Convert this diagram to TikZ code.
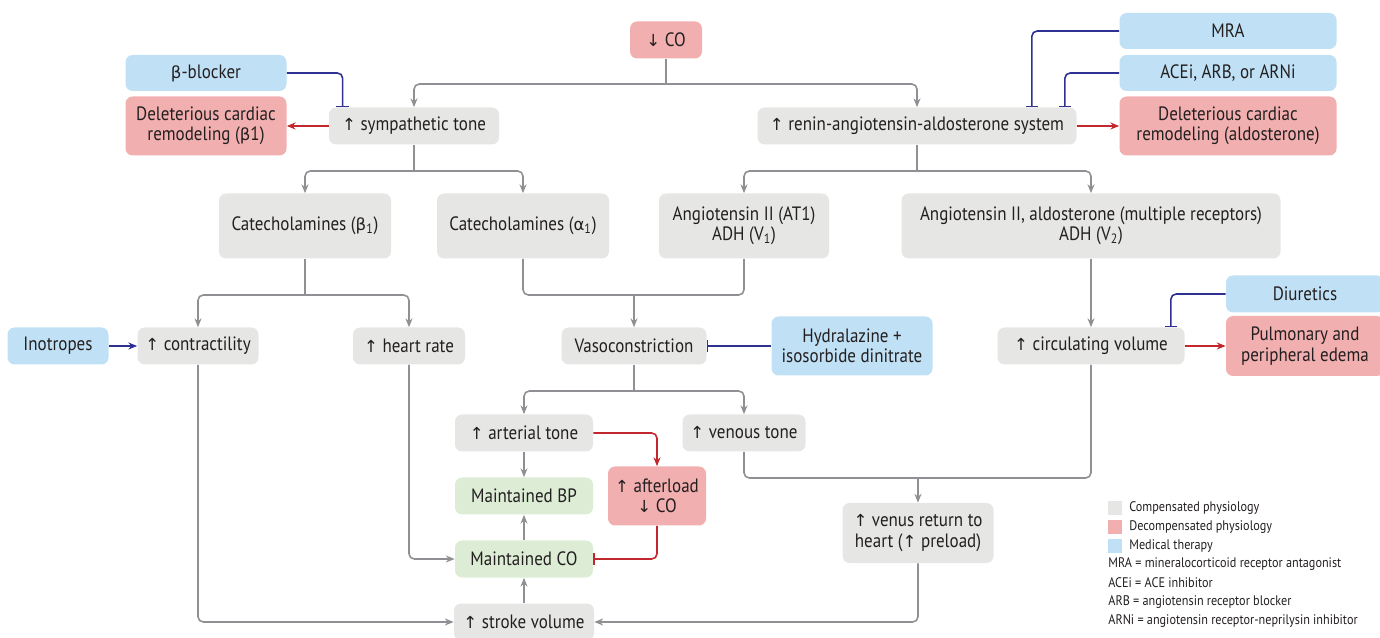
\documentclass[tikz,border=0pt]{standalone}
\usepackage{fontspec}
\setmainfont{PT Sans}[FakeStretch=0.88]
\newfontfamily\symb{DejaVu Sans}[Scale=0.86]
\usetikzlibrary{arrows.meta}

\definecolor{cgray}{HTML}{E6E6E5}
\definecolor{cred}{HTML}{F2AFAF}
\definecolor{cblue}{HTML}{C0E1F5}
\definecolor{cgreen}{HTML}{DDEDD5}
\definecolor{ctext}{HTML}{231F20}
\definecolor{lgray}{HTML}{8E9093}
\definecolor{lblue}{HTML}{2E3192}
\definecolor{lred}{HTML}{C1272D}

\newcommand\upar{{\symb ↑}}
\newcommand\dnar{{\symb ↓}}
\newcommand\grk[1]{{\symb #1}}

\tikzset{
  box/.style={rectangle, rounded corners=4pt, text=ctext, align=center,
    inner sep=1pt, font=\fontsize{11}{11.6}\selectfont},
  wh/.style 2 args={minimum width=#1*0.02cm, minimum height=#2*0.02cm},
  gbox/.style={box, fill=cgray},
  rbox/.style={box, fill=cred},
  bbox/.style={box, fill=cblue},
  vbox/.style={box, fill=cgreen},
  gline/.style={draw=lgray, line width=0.9pt, rounded corners=3pt},
  garrow/.style={gline, -{Stealth[length=5pt,width=4pt]}},
  rarrow/.style={draw=lred, line width=0.9pt, rounded corners=3pt, -{Stealth[length=5pt,width=4pt]}},
  barrow/.style={draw=lblue, line width=0.9pt, -{Stealth[length=5pt,width=4pt]}},
  bbar/.style={draw=lblue, line width=0.9pt, rounded corners=3pt, -{Bar[width=7pt]}},
  rbar/.style={draw=lred, line width=0.9pt, rounded corners=3pt, -{Bar[width=7pt]}},
  legsq/.style={rectangle, minimum size=0.28cm, inner sep=0pt},
  legtxt/.style={anchor=west, text=ctext, inner sep=0pt, font=\fontsize{7.9}{9}\selectfont},
}

\begin{document}
\begin{tikzpicture}[x=0.02cm, y=-0.02cm]
  \useasboundingbox (0,0) rectangle (1380,638);

  % top level
  \node[rbox, wh={72}{37}] (co) at (666,40) {\dnar\ CO};
  \node[gbox, wh={170}{37}] (symp) at (414,126) {\upar\ sympathetic tone};
  \node[gbox, wh={319}{37}] (raas) at (917,126) {\upar\ renin-angiotensin-aldosterone system};
  \node[bbox, wh={161}{36}] (bblk) at (206,73) {\grk{β}-blocker};
  \node[rbox, wh={161}{59}] (remb) at (206,126) {Deleterious cardiac\\remodeling (\grk{β}1)};
  \node[bbox, wh={217}{36}] (mra) at (1228,31) {MRA};
  \node[bbox, wh={217}{36}] (acei) at (1228,73) {ACEi, ARB, or ARNi};
  \node[rbox, wh={217}{59}] (remald) at (1228,126) {Deleterious cardiac\\remodeling (aldosterone)};

  % mediators
  \node[gbox, wh={172}{65}] (catb) at (305,226) {Catecholamines (\grk{β}\textsubscript{1})};
  \node[gbox, wh={172}{65}] (cata) at (523,226) {Catecholamines (\grk{α}\textsubscript{1})};
  \node[gbox, wh={170}{65}] (ang1) at (744,226) {Angiotensin II (AT1)\\ADH (V\textsubscript{1})};
  \node[gbox, wh={379}{65}] (ang2) at (1091,226) {Angiotensin II, aldosterone (multiple receptors)\\ADH (V\textsubscript{2})};

  % effects
  \node[bbox, wh={101}{37}] (inot) at (58,346) {Inotropes};
  \node[gbox, wh={121}{37}] (contr) at (198,346) {\upar\ contractility};
  \node[gbox, wh={112}{37}] (hr) at (409,346) {\upar\ heart rate};
  \node[gbox, wh={145}{37}] (vaso) at (634,346) {Vasoconstriction};
  \node[bbox, wh={161}{59}] (hydra) at (852,346) {Hydralazine +\\isosorbide dinitrate};
  \node[gbox, wh={187}{37}] (circ) at (1091,346) {\upar\ circulating volume};
  \node[bbox, wh={158}{37}] (diur) at (1305,294) {Diuretics};
  \node[rbox, wh={158}{60}] (edema) at (1305,346) {Pulmonary and\\peripheral edema};

  \node[gbox, wh={138}{37}] (art) at (524,433) {\upar\ arterial tone};
  \node[gbox, wh={123}{37}] (ven) at (744,433) {\upar\ venous tone};
  \node[vbox, wh={138}{37}] (mbp) at (524,496) {Maintained BP};
  \node[rbox, wh={98}{59}] (aftl) at (657,496) {\upar\ afterload\\\dnar\ CO};
  \node[vbox, wh={138}{37}] (mco) at (524,559) {Maintained CO};
  \node[gbox, wh={140}{37}] (sv) at (524,622) {\upar\ stroke volume};
  \node[gbox, wh={151}{60}] (vr) at (918,533) {\upar\ venus return to\\heart (\upar\ preload)};

  % branch points
  \coordinate (j0) at (666,84);
  \coordinate (j1) at (414,171);
  \coordinate (j2) at (917,171);
  \coordinate (j3) at (305,295);
  \coordinate (j4) at (634,295);
  \coordinate (j5) at (634,391);
  \coordinate (j6) at (918,478);

  % gray flow
  \draw[gline] (co) -- (j0);
  \draw[garrow] (j0) -| (symp);
  \draw[garrow] (j0) -| (raas);
  \draw[gline] (symp) -- (j1);
  \draw[garrow] (j1) -| (catb);
  \draw[garrow] (j1) -| (cata);
  \draw[gline] (raas) -- (j2);
  \draw[garrow] (j2) -| (ang1);
  \draw[garrow] (j2) -| (ang2);
  \draw[gline] (catb) -- (j3);
  \draw[garrow] (j3) -| (contr);
  \draw[garrow] (j3) -| (hr);
  \draw[gline] (cata) |- (j4);
  \draw[gline] (ang1) |- (j4);
  \draw[garrow] (j4) -- (vaso);
  \draw[garrow] (ang2) -- (circ);
  \draw[gline] (vaso) -- (j5);
  \draw[garrow] (j5) -| (art);
  \draw[garrow] (j5) -| (ven);
  \draw[garrow] (art) -- (mbp);
  \draw[garrow] (mco) -- (mbp);
  \draw[garrow] (sv) -- (mco);
  \draw[garrow] (hr) |- (mco);
  \draw[garrow] (contr) |- (sv);
  \draw[gline] (ven) |- (j6);
  \draw[gline] (circ) |- (j6);
  \draw[garrow] (j6) -- (vr);
  \draw[garrow] (vr) |- (sv);

  % harmful effects
  \draw[rarrow] (symp) -- (remb);
  \draw[rarrow] (raas) -- (remald);
  \draw[rarrow] (circ) -- (edema);
  \draw[rarrow] (art) -| (aftl);
  \draw[rbar] (aftl) |- (mco);

  % therapy
  \draw[barrow] (inot) -- (contr);
  \draw[bbar] (hydra) -- (vaso);
  \draw[bbar] (bblk) -| ([xshift=0.28cm]symp.north west);
  \draw[bbar] (mra) -| ([xshift=-0.9cm]raas.north east);
  \draw[bbar] (acei) -| ([xshift=-0.24cm]raas.north east);
  \draw[bbar] (diur) -| ([xshift=-0.28cm]circ.north east);

  % legend
  \node[legsq, fill=cgray] (k1) at (1115,508) {};
  \node[legsq, fill=cred] (k2) at (1115,527) {};
  \node[legsq, fill=cblue] (k3) at (1115,546) {};
  \node[legtxt] (t1) at (1129,508) {Compensated physiology};
  \node[legtxt] (t2) at (1129,527) {Decompensated physiology};
  \node[legtxt] (t3) at (1129,546) {Medical therapy};
  \node[legtxt] (t4) at (1108,564) {MRA = mineralocorticoid receptor antagonist};
  \node[legtxt] (t5) at (1108,583) {ACEi = ACE inhibitor};
  \node[legtxt] (t6) at (1108,602) {ARB = angiotensin receptor blocker};
  \node[legtxt] (t7) at (1108,621) {ARNi = angiotensin receptor-neprilysin inhibitor};
\end{tikzpicture}
\end{document}
